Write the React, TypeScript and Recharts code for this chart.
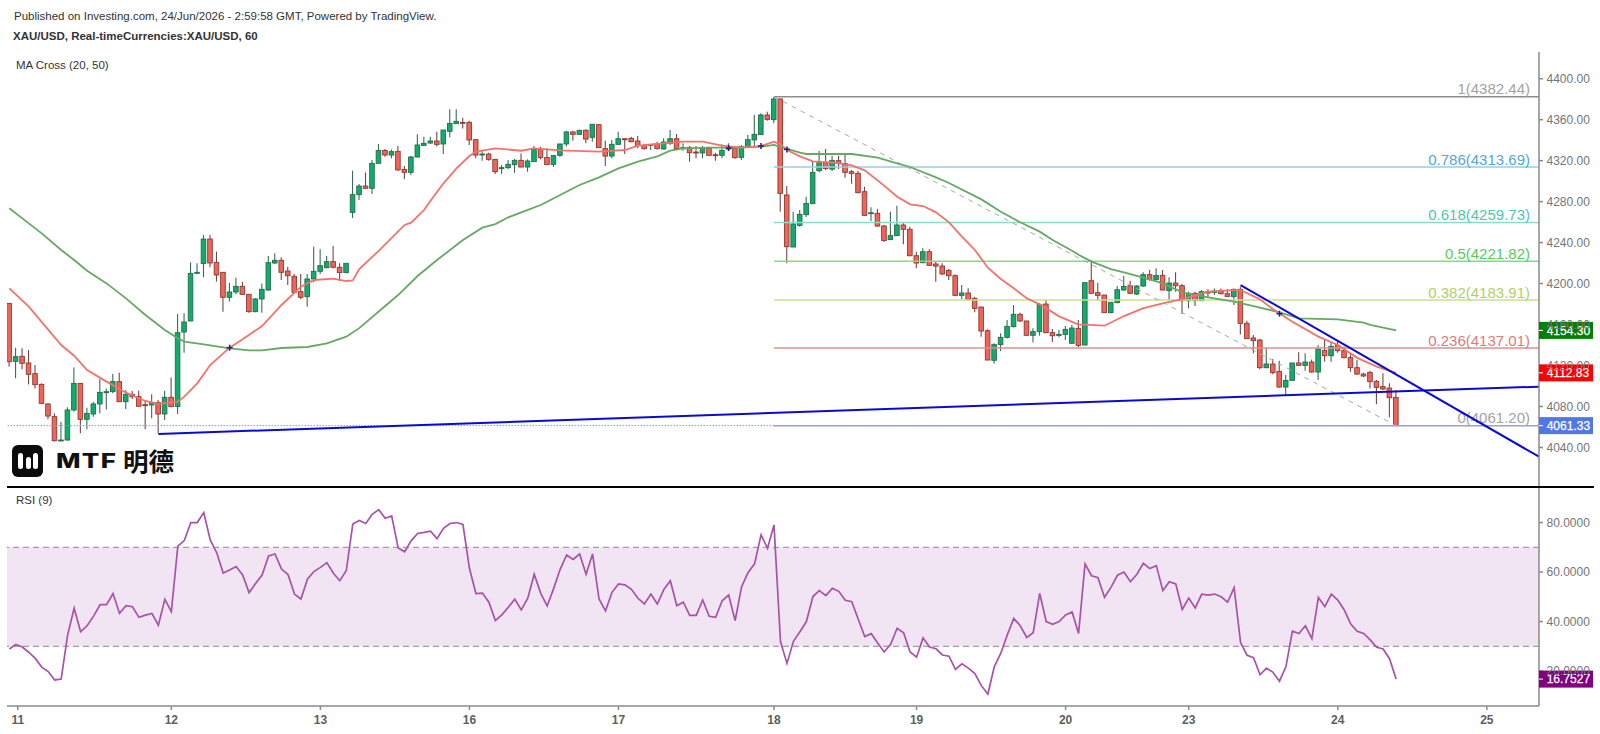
import { Bar, ComposedChart, Line, ReferenceArea, ReferenceDot, ReferenceLine, XAxis, YAxis } from "recharts";

const opens = [
  4180.7, 4124.1, 4129.0, 4122.5, 4112.1, 4101.6, 4082.5, 4070.1, 4046.7, 4047.3,
  4076.6, 4102.6, 4067.5, 4072.7, 4082.5, 4094.2, 4094.5, 4104.3, 4084.7, 4091.9,
  4089.6, 4081.8, 4081.5, 4083.8, 4072.7, 4089.0, 4079.9, 4152.7, 4163.5, 4210.7,
  4219.5, 4243.5, 4220.7, 4211.0, 4186.6, 4191.8, 4197.3, 4189.5, 4172.6, 4185.0,
  4193.7, 4220.1, 4222.7, 4212.3, 4207.1, 4192.1, 4187.2, 4204.5, 4212.0, 4215.5,
  4221.4, 4215.9, 4210.7, 4269.5, 4286.8, 4295.2, 4293.0, 4317.4, 4330.0, 4325.5,
  4329.1, 4311.5, 4308.6, 4323.6, 4334.9, 4337.2, 4339.2, 4336.3, 4348.6, 4356.1,
  4357.4, 4357.4, 4340.5, 4325.8, 4326.5, 4321.3, 4312.2, 4313.2, 4316.1, 4320.3,
  4313.8, 4319.0, 4331.0, 4323.2, 4316.4, 4325.2, 4336.3, 4348.0, 4345.7, 4349.6,
  4342.8, 4355.1, 4331.7, 4324.5, 4335.9, 4341.4, 4341.8, 4339.2, 4334.9, 4335.3,
  4336.3, 4331.4, 4336.9, 4341.4, 4332.0, 4333.0, 4328.4, 4327.5, 4332.3, 4325.8,
  4325.2, 4332.0, 4332.3, 4323.2, 4333.6, 4340.2, 4345.4, 4364.6, 4360.0, 4380.2,
  4286.5, 4235.7, 4256.8, 4267.3, 4278.0, 4310.2, 4318.0, 4311.8, 4320.0, 4317.1,
  4309.2, 4307.6, 4289.7, 4268.2, 4268.6, 4256.2, 4242.9, 4246.8, 4257.2, 4253.0,
  4227.2, 4220.4, 4231.1, 4219.1, 4217.1, 4212.9, 4207.7, 4188.5, 4190.8, 4185.6,
  4177.1, 4154.0, 4125.1, 4140.4, 4147.5, 4157.9, 4170.0, 4163.5, 4149.5, 4153.1,
  4180.0, 4152.1, 4149.5, 4150.4, 4141.7, 4156.3, 4140.0, 4202.8, 4191.1, 4188.8,
  4171.6, 4181.4, 4193.7, 4197.9, 4189.8, 4197.6, 4208.7, 4204.1, 4208.0, 4193.1,
  4200.5, 4197.9, 4183.3, 4190.5, 4183.3, 4192.1, 4191.4, 4192.7, 4190.1, 4187.2,
  4194.4, 4161.2, 4146.9, 4144.9, 4117.9, 4121.5, 4114.3, 4099.0, 4105.5, 4122.5,
  4120.2, 4123.4, 4113.7, 4134.8, 4129.6, 4139.7, 4134.5, 4127.7, 4117.9, 4111.7,
  4113.3, 4104.6, 4099.4, 4098.0, 4088.9,
];

const closes = [
  4123.8, 4128.7, 4122.2, 4111.4, 4101.3, 4083.1, 4070.7, 4046.7, 4047.3, 4076.6,
  4102.6, 4067.5, 4073.3, 4082.5, 4093.8, 4094.5, 4104.3, 4084.7, 4091.9, 4089.6,
  4080.2, 4081.2, 4083.8, 4072.7, 4089.0, 4079.9, 4152.1, 4162.5, 4210.0, 4211.0,
  4243.5, 4220.1, 4208.4, 4186.6, 4191.8, 4197.3, 4189.5, 4172.6, 4185.0, 4194.4,
  4220.4, 4222.7, 4211.0, 4207.7, 4191.5, 4186.6, 4204.5, 4212.0, 4217.5, 4221.4,
  4215.9, 4210.7, 4219.8, 4286.8, 4295.2, 4293.0, 4317.4, 4330.0, 4325.5, 4328.8,
  4310.9, 4308.6, 4323.6, 4335.3, 4336.9, 4339.2, 4335.9, 4349.9, 4356.4, 4358.4,
  4356.8, 4340.2, 4325.5, 4326.5, 4321.3, 4309.2, 4313.2, 4316.4, 4320.3, 4313.8,
  4319.7, 4331.0, 4322.9, 4316.1, 4324.9, 4336.3, 4348.0, 4345.7, 4349.6, 4341.1,
  4355.5, 4332.7, 4324.5, 4335.9, 4341.4, 4341.1, 4338.5, 4334.6, 4331.7, 4335.9,
  4331.7, 4338.2, 4341.4, 4331.7, 4332.7, 4327.8, 4327.8, 4332.3, 4325.2, 4325.2,
  4330.0, 4332.3, 4322.9, 4333.6, 4340.5, 4345.7, 4364.6, 4360.3, 4380.2, 4288.1,
  4236.0, 4258.2, 4267.6, 4278.3, 4308.6, 4318.0, 4312.2, 4320.3, 4317.1, 4308.6,
  4307.6, 4288.7, 4266.6, 4269.2, 4256.2, 4241.9, 4246.8, 4257.2, 4253.0, 4227.2,
  4220.1, 4231.1, 4217.8, 4217.1, 4209.4, 4207.7, 4188.5, 4190.8, 4184.3, 4175.8,
  4153.7, 4125.4, 4140.4, 4147.5, 4158.3, 4170.0, 4163.5, 4149.5, 4153.1, 4179.7,
  4152.1, 4149.1, 4150.4, 4155.3, 4156.6, 4139.7, 4200.9, 4190.5, 4188.5, 4171.6,
  4181.7, 4194.0, 4197.3, 4190.5, 4197.6, 4208.7, 4204.1, 4208.0, 4193.7, 4200.5,
  4197.9, 4183.3, 4190.5, 4183.3, 4192.1, 4190.8, 4192.7, 4190.1, 4187.5, 4194.4,
  4161.2, 4146.2, 4144.3, 4117.9, 4121.5, 4113.0, 4099.0, 4105.5, 4122.5, 4120.2,
  4123.4, 4113.7, 4136.1, 4129.6, 4138.7, 4134.5, 4127.7, 4117.9, 4111.7, 4109.8,
  4104.2, 4098.7, 4097.1, 4088.6, 4061.33,
];

const highs = [
  4180.7, 4137.4, 4136.8, 4135.2, 4120.5, 4102.6, 4083.1, 4073.3, 4065.2, 4079.2,
  4118.2, 4102.6, 4078.9, 4084.7, 4106.9, 4097.7, 4111.7, 4113.0, 4096.1, 4095.1,
  4095.5, 4086.4, 4091.9, 4086.4, 4095.5, 4108.2, 4170.3, 4171.0, 4220.7, 4219.8,
  4247.4, 4247.4, 4231.2, 4211.0, 4200.9, 4205.8, 4201.9, 4189.5, 4185.6, 4200.2,
  4226.9, 4229.5, 4225.6, 4216.5, 4209.4, 4209.4, 4209.4, 4236.0, 4233.4, 4226.9,
  4236.7, 4219.8, 4219.8, 4310.2, 4297.2, 4308.6, 4320.6, 4336.3, 4331.4, 4331.0,
  4334.3, 4314.8, 4324.5, 4345.7, 4343.4, 4343.4, 4348.3, 4349.9, 4370.1, 4370.1,
  4362.0, 4359.0, 4340.5, 4329.7, 4327.8, 4321.3, 4315.7, 4320.6, 4321.6, 4327.1,
  4321.3, 4334.3, 4333.6, 4332.0, 4325.5, 4336.3, 4349.3, 4349.3, 4350.2, 4350.6,
  4355.5, 4355.5, 4339.5, 4340.2, 4348.3, 4341.4, 4343.4, 4344.0, 4336.3, 4336.3,
  4338.5, 4341.8, 4349.9, 4346.0, 4336.9, 4334.3, 4334.3, 4334.3, 4333.6, 4327.8,
  4335.9, 4336.9, 4333.6, 4335.3, 4345.0, 4364.6, 4366.2, 4367.8, 4382.44, 4380.8,
  4295.2, 4270.2, 4271.8, 4284.8, 4319.7, 4329.4, 4331.4, 4324.9, 4324.9, 4326.2,
  4310.9, 4309.9, 4294.6, 4274.4, 4272.8, 4257.2, 4270.2, 4276.0, 4258.8, 4255.5,
  4231.1, 4234.4, 4233.4, 4221.4, 4219.8, 4214.2, 4209.0, 4198.6, 4195.4, 4187.2,
  4177.5, 4155.3, 4141.7, 4151.4, 4164.4, 4179.1, 4171.6, 4163.5, 4156.3, 4180.7,
  4184.0, 4155.6, 4154.7, 4158.6, 4159.6, 4164.4, 4200.9, 4222.4, 4200.9, 4188.8,
  4181.7, 4197.6, 4207.4, 4202.8, 4198.6, 4211.0, 4213.2, 4214.9, 4213.2, 4206.1,
  4211.0, 4199.6, 4192.1, 4192.1, 4193.7, 4194.4, 4195.3, 4195.3, 4194.7, 4195.3,
  4197.0, 4163.8, 4149.8, 4146.2, 4136.8, 4126.4, 4124.7, 4110.7, 4122.5, 4132.9,
  4131.9, 4126.0, 4140.0, 4144.9, 4143.3, 4144.3, 4138.4, 4131.2, 4125.4, 4113.0,
  4115.0, 4105.9, 4112.4, 4102.6, 4096.1,
];

const lows = [
  4118.9, 4107.5, 4116.3, 4101.6, 4097.7, 4082.5, 4067.5, 4045.7, 4046.3, 4046.7,
  4075.0, 4053.8, 4057.7, 4070.1, 4073.3, 4077.2, 4092.9, 4084.7, 4077.6, 4087.3,
  4079.9, 4057.7, 4068.5, 4053.8, 4066.8, 4079.2, 4072.7, 4132.6, 4163.5, 4209.4,
  4206.1, 4215.9, 4201.9, 4172.6, 4182.4, 4189.5, 4188.9, 4171.6, 4171.9, 4171.6,
  4193.1, 4219.1, 4203.5, 4198.6, 4189.8, 4184.6, 4177.5, 4201.2, 4209.4, 4214.9,
  4214.9, 4202.5, 4210.0, 4264.0, 4281.6, 4292.7, 4287.4, 4317.4, 4323.9, 4322.3,
  4310.2, 4301.8, 4306.0, 4323.2, 4334.6, 4336.3, 4333.7, 4326.5, 4342.8, 4355.8,
  4351.5, 4335.3, 4322.3, 4320.0, 4320.0, 4307.0, 4307.0, 4311.8, 4308.3, 4313.5,
  4309.2, 4319.0, 4321.3, 4315.8, 4314.1, 4323.9, 4333.7, 4339.5, 4345.0, 4336.9,
  4338.5, 4332.7, 4314.8, 4322.3, 4335.9, 4326.5, 4337.9, 4332.0, 4331.0, 4330.4,
  4331.0, 4331.0, 4335.3, 4331.0, 4329.7, 4319.0, 4322.3, 4322.3, 4324.8, 4320.0,
  4322.3, 4329.7, 4321.9, 4320.6, 4332.0, 4333.6, 4345.0, 4359.0, 4356.4, 4270.2,
  4219.8, 4235.7, 4255.5, 4265.0, 4278.0, 4308.6, 4310.9, 4309.9, 4311.8, 4303.4,
  4297.5, 4288.1, 4266.3, 4261.1, 4255.5, 4240.9, 4242.5, 4246.4, 4238.3, 4226.6,
  4214.9, 4219.8, 4217.1, 4201.9, 4208.4, 4203.5, 4187.9, 4184.9, 4183.6, 4171.9,
  4148.2, 4125.1, 4122.1, 4134.2, 4146.5, 4157.3, 4162.8, 4149.2, 4142.6, 4149.2,
  4151.4, 4143.0, 4147.5, 4144.9, 4141.0, 4137.8, 4140.0, 4190.5, 4183.3, 4171.6,
  4171.0, 4180.7, 4193.1, 4189.8, 4188.8, 4197.0, 4202.8, 4202.8, 4193.7, 4184.0,
  4192.1, 4170.3, 4175.8, 4178.1, 4183.0, 4187.2, 4188.8, 4189.5, 4186.9, 4179.1,
  4150.4, 4146.2, 4131.9, 4116.3, 4117.3, 4111.4, 4098.4, 4091.2, 4104.9, 4119.5,
  4115.0, 4113.0, 4105.9, 4123.8, 4123.8, 4132.5, 4127.0, 4114.0, 4110.7, 4108.5,
  4097.7, 4082.1, 4096.1, 4069.4, 4061.2,
];

const rsiValues = [
  28.9, 30.7, 29.7, 27.6, 25.1, 21.6, 19.8, 16.4, 16.8, 34.6,
  45.4, 35.9, 38.3, 42.2, 46.8, 46.8, 51.3, 43.3, 46.4, 46.0,
  41.7, 42.6, 43.3, 38.5, 49.0, 44.0, 70.5, 72.7, 80.0, 80.0,
  84.0, 73.0, 67.8, 59.6, 60.8, 62.2, 58.8, 51.7, 55.4, 58.8,
  66.5, 67.3, 61.2, 59.0, 51.1, 49.1, 57.1, 60.2, 61.9, 63.8,
  59.5, 56.5, 60.6, 79.4, 80.8, 79.6, 83.3, 85.2, 81.7, 82.7,
  69.7, 68.2, 72.6, 75.6, 76.0, 76.5, 73.5, 77.7, 79.6, 80.0,
  79.2, 61.5, 51.3, 51.5, 47.8, 40.4, 42.7, 45.8, 49.0, 44.7,
  49.4, 59.1, 51.4, 46.3, 53.4, 61.1, 66.9, 65.1, 67.3, 59.1,
  67.3, 49.1, 44.3, 51.8, 55.2, 54.8, 53.0, 49.4, 47.1, 51.1,
  47.1, 53.0, 56.5, 46.4, 47.8, 42.5, 42.5, 48.7, 42.1, 41.7,
  48.4, 50.7, 40.4, 54.1, 59.8, 63.3, 75.0, 69.6, 79.0, 31.9,
  23.1, 32.0, 35.9, 40.0, 50.1, 52.5, 50.5, 53.4, 52.2, 48.6,
  48.0, 40.9, 33.9, 35.1, 31.3, 27.7, 30.8, 37.3, 35.5, 27.7,
  25.6, 33.4, 29.7, 29.0, 26.5, 26.0, 20.7, 22.9, 21.2, 19.0,
  14.1, 10.7, 21.8, 27.2, 34.6, 41.3, 38.3, 33.6, 35.5, 51.4,
  40.0, 38.9, 40.0, 42.7, 43.9, 35.2, 63.3, 58.5, 57.7, 49.8,
  53.8, 58.7, 60.0, 56.1, 59.1, 63.5, 61.4, 62.6, 52.5, 56.1,
  55.2, 44.9, 49.5, 45.5, 51.1, 50.7, 51.1, 50.0, 47.8, 53.7,
  31.5, 26.4, 25.4, 18.5, 21.2, 19.5, 15.9, 21.8, 36.1, 35.2,
  38.3, 33.1, 49.7, 46.0, 51.1, 48.7, 44.7, 39.0, 36.1, 35.2,
  32.6, 29.6, 28.9, 24.9, 16.75,
];

// readings at the bends only, the line joins them
const ma20Points = [
  [0, 4195.4], [3, 4177.5], [8, 4140], [10, 4129.6], [12, 4115.6], [15, 4104.3], [18, 4093.5], [21, 4085.4], [23, 4082.5],
  [26, 4084.7], [27, 4089.6], [29, 4102.6], [31, 4120.5], [33, 4131.9], [34, 4137.4], [36, 4145.6], [39, 4158.6], [42, 4179.1],
  [45, 4197], [47, 4203.5], [50, 4204.8], [52, 4202.5], [53, 4203], [54, 4214.2], [57, 4232], [61, 4257.2], [62, 4259.5], [64, 4271.8],
  [65, 4280.9], [67, 4297.9], [69, 4312.5], [71, 4324.5], [72, 4328.8], [75, 4332], [79, 4329.7], [81, 4332], [85, 4330],
  [91, 4328.8], [95, 4330.4], [97, 4334.6], [101, 4336.9], [104, 4338.5], [107, 4338.5], [110, 4334.6], [113, 4332.7], [115, 4333.6],
  [116, 4334.3], [118, 4338.5], [119, 4335.9], [120, 4330.4], [122, 4324.2], [124, 4319.3], [127, 4318.4], [130, 4315.4], [132, 4310.5],
  [135, 4295.6], [137, 4284.8], [139, 4277.4], [141, 4275.7], [143, 4269.5], [145, 4259.8], [147, 4245.8], [149, 4232.8], [151, 4215.5],
  [153, 4204.5], [155, 4195.4], [157, 4185.6], [159, 4179.7], [160, 4176], [162, 4168], [165, 4159.9], [166, 4159.9], [169, 4158.9],
  [172, 4168.3], [175, 4176.1], [178, 4180.7], [181, 4184.9], [185, 4192.1], [189, 4193.7], [190, 4193.7], [193, 4184.6], [195, 4174.9],
  [198, 4162.8], [202, 4148.2], [205, 4140], [208, 4127.5], [211, 4118.9], [214, 4112.83],
];

const ma50Points = [
  [0, 4273.5], [3, 4258.8], [5, 4249], [8, 4232.8], [10, 4223], [12, 4212.6], [15, 4200.2], [18, 4185.6], [21, 4169.3], [24, 4154.7],
  [26, 4146.6], [27, 4143.3], [30, 4140.7], [34, 4136.8], [37, 4134.8], [39, 4134.8], [42, 4137.1], [46, 4138.1], [49, 4141.7], [52, 4148.2],
  [54, 4156.5], [58, 4178.1], [60, 4188.8], [63, 4207.4], [66, 4223], [70, 4242.5], [73, 4254.6], [75, 4258.1], [77, 4264.7], [79, 4269.5],
  [82, 4276.7], [85, 4286.5], [88, 4296.2], [91, 4303.7], [94, 4312.5], [97, 4319], [100, 4324.2], [102, 4329.7], [104, 4332], [108, 4332.7],
  [112, 4332.7], [116, 4333.6], [118, 4335.3], [120, 4331.4], [122, 4327.8], [123, 4326.5], [130, 4326.5], [134, 4322.9], [137, 4317.4],
  [139, 4313.8], [143, 4303.7], [145, 4298.2], [150, 4282.2], [153, 4270.2], [156, 4259.8], [159, 4250.7], [161, 4242.5], [164, 4232.1],
  [165, 4228.2], [167, 4221.4], [170, 4214.2], [172, 4211], [175, 4205.8], [178, 4200.2], [181, 4191.4], [185, 4186.6], [189, 4182.3],
  [192, 4178.1], [196, 4171.9], [199, 4166.1], [205, 4165.1], [209, 4161.8], [210, 4159.6], [212, 4157], [214, 4154.3],
];

const crossPoints = [[34, 4137.4], [111, 4332.3], [116, 4334.3], [120, 4331], [196, 4170.6]];

const priceTicks = [4040, 4080, 4120, 4160, 4200, 4240, 4280, 4320, 4360, 4400];
const rsiTicks = [20, 40, 60, 80];
const dayTicks = [1.3, 25, 48, 71, 94, 118, 140, 163, 182, 205, 228];
const dayLabels = ["11", "12", "13", "16", "17", "18", "19", "20", "23", "24", "25"];

const fibLevels = [
  { label: "1(4382.44)", price: 4382.44, line: "#8c8c8c", text: "#a3a3a3" },
  { label: "0.786(4313.69)", price: 4313.69, line: "#9ccde6", text: "#57a6d3" },
  { label: "0.618(4259.73)", price: 4259.73, line: "#88dccb", text: "#4fc7ab" },
  { label: "0.5(4221.82)", price: 4221.82, line: "#86da86", text: "#5ac95f" },
  { label: "0.382(4183.91)", price: 4183.91, line: "#c8e28e", text: "#b0d066" },
  { label: "0.236(4137.01)", price: 4137.01, line: "#dd9090", text: "#dc7c7c" },
  { label: "0(4061.20)", price: 4061.2, line: "#9aa4c4", text: "#a3a3a3" },
];

const font = "'Liberation Sans', Arial, sans-serif";
const xDomain = [-0.36, 236.05];
const priceDomain = [4002.4, 4426.07];
const rsiDomain = [5.88, 94.36];

const findValue = (points: number[][], i: number) => {
  const hit = points.find((p) => p[0] === i);
  return hit ? hit[1] : null;
};

const rows = opens.map((open, i) => ({
  i,
  open,
  close: closes[i],
  high: highs[i],
  low: lows[i],
  ma20: findValue(ma20Points, i),
  ma50: findValue(ma50Points, i),
  cross: findValue(crossPoints, i),
}));
const rsiRows = rsiValues.map((rsi, i) => ({ i, rsi }));

function Candle(props: any) {
  const { x, y, width, height, payload } = props;
  const { open, close, high, low } = payload;
  const up = close >= open;
  const top = Math.min(y, y + height);
  const span = Math.abs(height);
  const perUnit = span / (high - low || 1);
  const cx = x + width / 2;
  const bodyTop = top + (high - Math.max(open, close)) * perUnit;
  const bodyHeight = Math.max(Math.abs(open - close) * perUnit, 1);
  return (
    <g>
      <line x1={cx} x2={cx} y1={top} y2={top + span} stroke={up ? "#3f6b55" : "#6e4a45"} strokeWidth={1.1} />
      <rect x={cx - 2.3} y={bodyTop} width={4.6} height={bodyHeight} fill={up ? "#0fad6c" : "#f0645a"} stroke={up ? "#2a6a4c" : "#8a3a33"} strokeWidth={0.9} />
    </g>
  );
}

function CrossDot(props: any) {
  const { cx, cy, value } = props;
  if (value == null || cy == null) return <g />;
  return (
    <g stroke="#28287a" strokeWidth={1.6}>
      <line x1={cx - 3} x2={cx + 3} y1={cy} y2={cy} />
      <line x1={cx} x2={cx} y1={cy - 3} y2={cy + 3} />
    </g>
  );
}

function FibLabel(props: any) {
  const { viewBox, text, color } = props;
  if (!viewBox) return null;
  return (
    <text x={viewBox.x + viewBox.width - 9} y={viewBox.y - 2.5} textAnchor="end" fontSize={15} fontFamily={font} fill={color}>
      {text}
    </text>
  );
}

function PriceTag(props: any) {
  const { cx, cy, text, color } = props;
  return (
    <g>
      <rect x={cx} y={cy - 8.5} width={54} height={17} fill={color} />
      <line x1={cx} x2={cx + 4} y1={cy} y2={cy} stroke="#fff" />
      <text x={cx + 7.7} y={cy + 4.3} fontSize={12} fontWeight={400} stroke="#fff" strokeWidth={0.25} fontFamily={font} fill="#fff">
        {text}
      </text>
    </g>
  );
}

const priceTick = (props: any) => (
  <text x={props.x + 1.5} y={props.y + 4.2} fontSize={12} fontFamily={font} fill="#757575">
    {props.payload.value.toFixed(2)}
  </text>
);
const rsiTick = (props: any) => (
  <text x={props.x + 1.5} y={props.y + 4.2} fontSize={12} fontFamily={font} fill="#757575">
    {props.payload.value.toFixed(4)}
  </text>
);
const dayTick = (props: any) => (
  <text x={props.x} y={props.y + 12} textAnchor="middle" fontSize={12} fontWeight={700} fontFamily={font} fill="#5e5e5e">
    {dayLabels[dayTicks.indexOf(props.payload.value)]}
  </text>
);

const textStyle = { position: "absolute", fontFamily: font, whiteSpace: "nowrap", color: "#333" } as const;

export default function App() {
  return (
    <div style={{ position: "absolute", left: 0, top: 0, width: 1600, height: 734, background: "#fff", overflow: "hidden" }}>
      <div style={{ position: "absolute", left: 0, top: 0 }}>
        <ComposedChart width={1600} height={486} data={rows} margin={{ top: 52, right: 0, bottom: 0, left: 7 }}>
          <XAxis dataKey="i" type="number" domain={xDomain} hide allowDataOverflow />
          <YAxis orientation="right" width={61} domain={priceDomain} ticks={priceTicks} tick={priceTick} stroke="#8a8a8a" strokeWidth={1.5} tickSize={4} interval={0} allowDataOverflow />
          <ReferenceLine y={4061.33} stroke="#7f9be6" strokeDasharray="1.5 1.5" />
          {fibLevels.map((f) => (
            <ReferenceLine
              key={f.label}
              segment={[{ x: 118, y: f.price }, { x: xDomain[1], y: f.price }]}
              stroke={f.line}
              strokeWidth={1.5}
              label={<FibLabel text={f.label} color={f.text} />}
            />
          ))}
          <Line dataKey="ma50" stroke="#65a964" strokeWidth={1.8} dot={false} connectNulls isAnimationActive={false} />
          <Line dataKey="ma20" stroke="#f2736b" strokeWidth={1.8} dot={false} connectNulls isAnimationActive={false} />
          <Bar dataKey={(row: any) => [row.low, row.high]} barSize={4} shape={<Candle />} isAnimationActive={false} />
          <ReferenceLine segment={[{ x: 118, y: 4382.44 }, { x: 214, y: 4061.2 }]} stroke="#a8a8a8" strokeWidth={1} strokeDasharray="5 5" />
          <ReferenceLine segment={[{ x: 23, y: 4053.2 }, { x: xDomain[1], y: 4099.4 }]} stroke="#0a0ad0" strokeWidth={2} />
          <ReferenceLine segment={[{ x: 190, y: 4198.6 }, { x: xDomain[1], y: 4031 }]} stroke="#0a0ad0" strokeWidth={2} />
          <Line dataKey="cross" stroke="none" dot={<CrossDot />} isAnimationActive={false} />
          <ReferenceDot x={xDomain[1]} y={4154.3} shape={<PriceTag text="4154.30" color="#008000" />} />
          <ReferenceDot x={xDomain[1]} y={4112.83} shape={<PriceTag text="4112.83" color="#ff0000" />} />
          <ReferenceDot x={xDomain[1]} y={4061.33} shape={<PriceTag text="4061.33" color="#4f78e3" />} />
        </ComposedChart>
      </div>
      <div style={{ position: "absolute", left: 0, top: 0 }}>
        <ComposedChart width={1600} height={734} data={rsiRows} margin={{ top: 487, right: 0, bottom: 0, left: 7 }}>
          <XAxis dataKey="i" type="number" domain={xDomain} ticks={dayTicks} tick={dayTick} height={28} stroke="#8a8a8a" strokeWidth={1.5} tickSize={4} interval={0} allowDataOverflow />
          <YAxis orientation="right" width={61} domain={rsiDomain} ticks={rsiTicks} tick={rsiTick} stroke="#8a8a8a" strokeWidth={1.5} tickSize={4} interval={0} allowDataOverflow />
          <ReferenceArea y1={30} y2={70} fill="#f1e4f3" fillOpacity={1} stroke="none" />
          <ReferenceLine y={70} stroke="#a899aa" strokeWidth={1.2} strokeDasharray="6 4" />
          <ReferenceLine y={30} stroke="#a899aa" strokeWidth={1.2} strokeDasharray="6 4" />
          <Line dataKey="rsi" stroke="#a653a8" strokeWidth={1.7} dot={false} isAnimationActive={false} />
          <ReferenceDot x={xDomain[1]} y={16.75} shape={<PriceTag text="16.7527" color="#800080" />} />
        </ComposedChart>
      </div>

      <div style={{ position: "absolute", left: 7, top: 485.5, width: 1587, height: 2, background: "#000" }} />

      <div style={{ ...textStyle, left: 14, top: 10, fontSize: 11.5 }}>Published on Investing.com, 24/Jun/2026 - 2:59:58 GMT, Powered by TradingView.</div>
      <div style={{ ...textStyle, left: 13, top: 30, fontSize: 11.5, fontWeight: 700 }}>XAU/USD, Real-timeCurrencies:XAU/USD, 60</div>
      <div style={{ ...textStyle, left: 16, top: 59, fontSize: 11.5 }}>MA Cross (20, 50)</div>
      <div style={{ ...textStyle, left: 16, top: 494, fontSize: 11.5 }}>RSI (9)</div>

      <div style={{ position: "absolute", left: 12, top: 445, width: 31, height: 32, borderRadius: 6, background: "#0b0b0b" }}>
        {[6, 13.5, 20.5].map((left, k) => (
          <div key={left} style={{ position: "absolute", left, top: k === 1 ? 12 : 8, width: 5, height: k === 1 ? 12 : 16, borderRadius: 3, background: "#fff" }} />
        ))}
      </div>
      <div style={{ ...textStyle, left: 56, top: 451, fontFamily: "Inter, sans-serif", fontSize: 20, fontWeight: 800, color: "#111", letterSpacing: 1, lineHeight: "20px", transform: "scaleX(1.3)", transformOrigin: "left center" }}>MTF</div>
      <div style={{ ...textStyle, left: 123, top: 443, fontFamily: "'Noto Sans CJK SC', sans-serif", fontSize: 25.5, fontWeight: 700, color: "#111", lineHeight: "34px" }}>明德</div>
    </div>
  );
}
